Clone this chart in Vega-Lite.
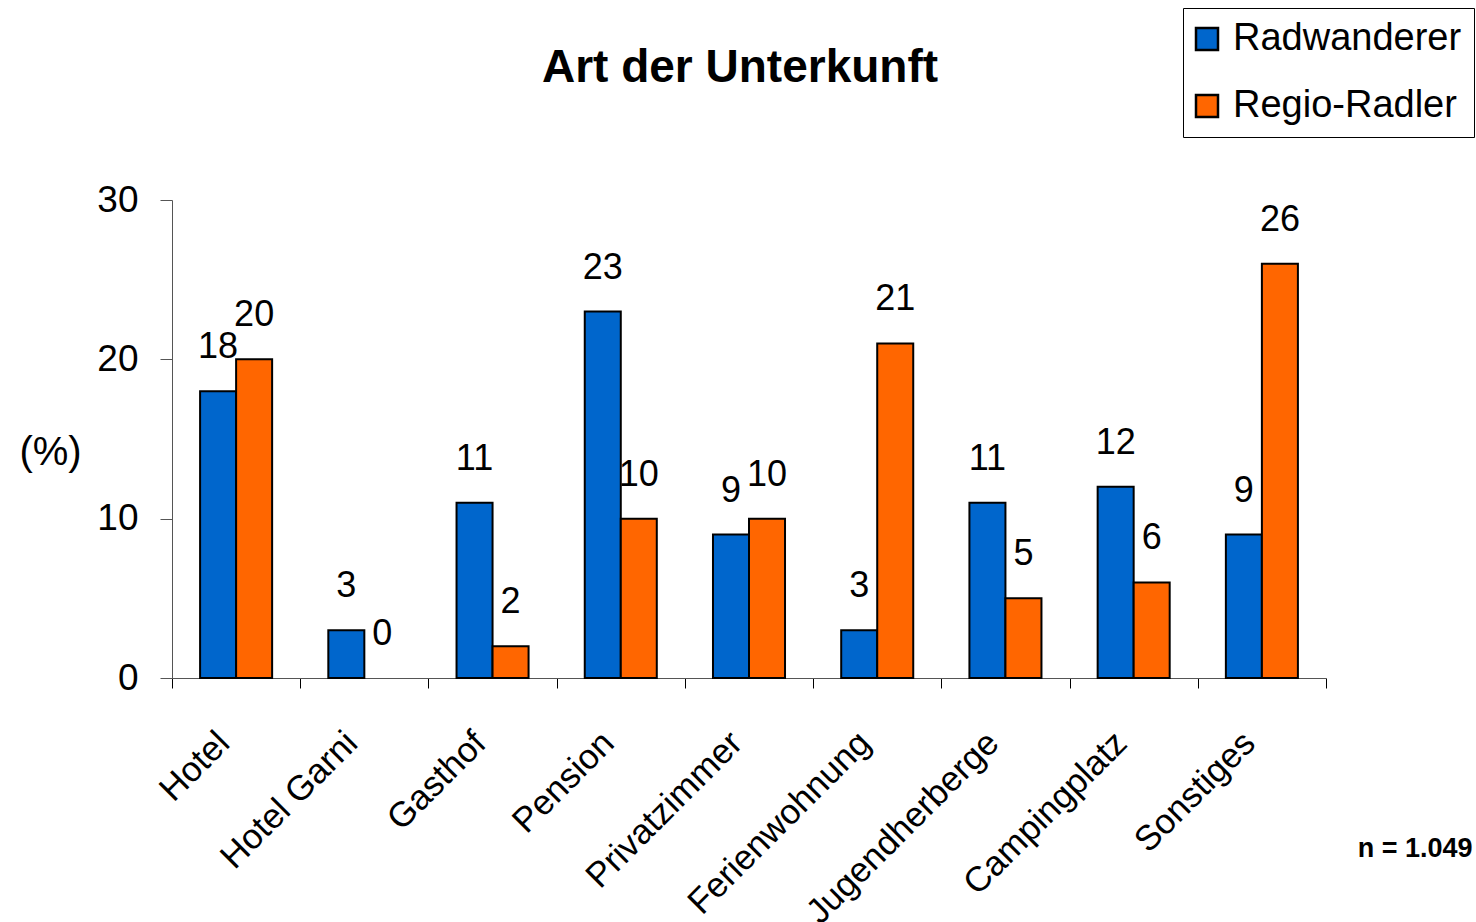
{
  "$schema": "https://vega.github.io/schema/vega-lite/v6.json",
  "width": 1154,
  "height": 478,
  "autosize": {"type": "none"},
  "padding": {"left": 172, "top": 200, "right": 150, "bottom": 244},
  "background": "white",
  "title": {
    "text": "Art der Unterkunft",
    "fontSize": 46,
    "fontWeight": "bold",
    "font": "Liberation Sans",
    "anchor": "middle",
    "frame": "group",
    "dx": -9,
    "baseline": "alphabetic",
    "offset": -120,
    "color": "black"
  },
  "data": {
    "values": [
      {"Unterkunft": "Hotel", "Gruppe": "Radwanderer", "Prozent": 18},
      {"Unterkunft": "Hotel", "Gruppe": "Regio-Radler", "Prozent": 20},
      {"Unterkunft": "Hotel Garni", "Gruppe": "Radwanderer", "Prozent": 3},
      {"Unterkunft": "Hotel Garni", "Gruppe": "Regio-Radler", "Prozent": 0},
      {"Unterkunft": "Gasthof", "Gruppe": "Radwanderer", "Prozent": 11},
      {"Unterkunft": "Gasthof", "Gruppe": "Regio-Radler", "Prozent": 2},
      {"Unterkunft": "Pension", "Gruppe": "Radwanderer", "Prozent": 23},
      {"Unterkunft": "Pension", "Gruppe": "Regio-Radler", "Prozent": 10},
      {"Unterkunft": "Privatzimmer", "Gruppe": "Radwanderer", "Prozent": 9},
      {"Unterkunft": "Privatzimmer", "Gruppe": "Regio-Radler", "Prozent": 10},
      {"Unterkunft": "Ferienwohnung", "Gruppe": "Radwanderer", "Prozent": 3},
      {"Unterkunft": "Ferienwohnung", "Gruppe": "Regio-Radler", "Prozent": 21},
      {"Unterkunft": "Jugendherberge", "Gruppe": "Radwanderer", "Prozent": 11},
      {"Unterkunft": "Jugendherberge", "Gruppe": "Regio-Radler", "Prozent": 5},
      {"Unterkunft": "Campingplatz", "Gruppe": "Radwanderer", "Prozent": 12},
      {"Unterkunft": "Campingplatz", "Gruppe": "Regio-Radler", "Prozent": 6},
      {"Unterkunft": "Sonstiges", "Gruppe": "Radwanderer", "Prozent": 9},
      {"Unterkunft": "Sonstiges", "Gruppe": "Regio-Radler", "Prozent": 26}
    ]
  },
  "encoding": {
    "x": {
      "field": "Unterkunft",
      "type": "nominal",
      "sort": null,
      "scale": {"paddingInner": 0, "paddingOuter": 0},
      "axis": {
        "title": "n = 1.049",
        "titleX": 1300,
        "titleY": 170,
        "titleAlign": "right",
        "titleBaseline": "middle",
        "titleFontSize": 27,
        "titleFontWeight": "bold",
        "titleFont": "Liberation Sans",
        "titleColor": "black",
        "tickBand": "extent",
        "tickSize": 10,
        "tickColor": "black",
        "domainColor": "#555555",
        "labelAngle": -45,
        "labelAlign": "right",
        "labelBaseline": "middle",
        "labelPadding": 49,
        "labelOffset": -13,
        "labelFontSize": 35,
        "labelFont": "Liberation Sans",
        "labelColor": "black",
        "labelOverlap": false,
        "labelLimit": 0
      }
    },
    "xOffset": {
      "field": "Gruppe",
      "type": "nominal",
      "sort": ["Radwanderer", "Regio-Radler"],
      "scale": {"paddingInner": 0, "paddingOuter": 0.78}
    },
    "y": {
      "field": "Prozent",
      "type": "quantitative",
      "scale": {"domain": [0, 30], "nice": false},
      "axis": {
        "values": [0, 10, 20, 30],
        "grid": false,
        "tickSize": 12,
        "tickColor": "#555555",
        "domainColor": "#555555",
        "labelPadding": 22,
        "labelFontSize": 37,
        "labelFont": "Liberation Sans",
        "labelColor": "black",
        "title": "(%)",
        "titleAngle": 0,
        "titleX": -122,
        "titleY": 252,
        "titleAlign": "center",
        "titleBaseline": "middle",
        "titleFontSize": 40,
        "titleFontWeight": "normal",
        "titleFont": "Liberation Sans",
        "titleColor": "black"
      }
    }
  },
  "layer": [
    {
      "mark": {"type": "bar", "stroke": "black", "strokeWidth": 2},
      "encoding": {
        "color": {
          "field": "Gruppe",
          "type": "nominal",
          "sort": ["Radwanderer", "Regio-Radler"],
          "scale": {"domain": ["Radwanderer", "Regio-Radler"], "range": ["#0066CC", "#FF6600"]},
          "legend": {
            "orient": "none",
            "legendX": 1011,
            "legendY": -192,
            "title": null,
            "labelFontSize": 38,
            "labelFont": "Liberation Sans",
            "labelColor": "black",
            "labelLimit": 0,
            "symbolType": "square",
            "symbolSize": 484,
            "symbolStrokeColor": "black",
            "symbolStrokeWidth": 2.5,
            "symbolOpacity": 1,
            "symbolOffset": -7,
            "strokeColor": "black",
            "fillColor": "white",
            "padding": 12,
            "rowPadding": 29,
            "labelOffset": 7
          }
        },
        "strokeOpacity": {
          "condition": {"test": "datum.Prozent === 0", "value": 0},
          "value": 1
        }
      }
    },
    {
      "mark": {"type": "text", "baseline": "alphabetic", "dy": -33, "fontSize": 36, "font": "Liberation Sans", "color": "black"},
      "encoding": {"text": {"field": "Prozent", "type": "quantitative"}}
    }
  ],
  "config": {"view": {"stroke": null}}
}
